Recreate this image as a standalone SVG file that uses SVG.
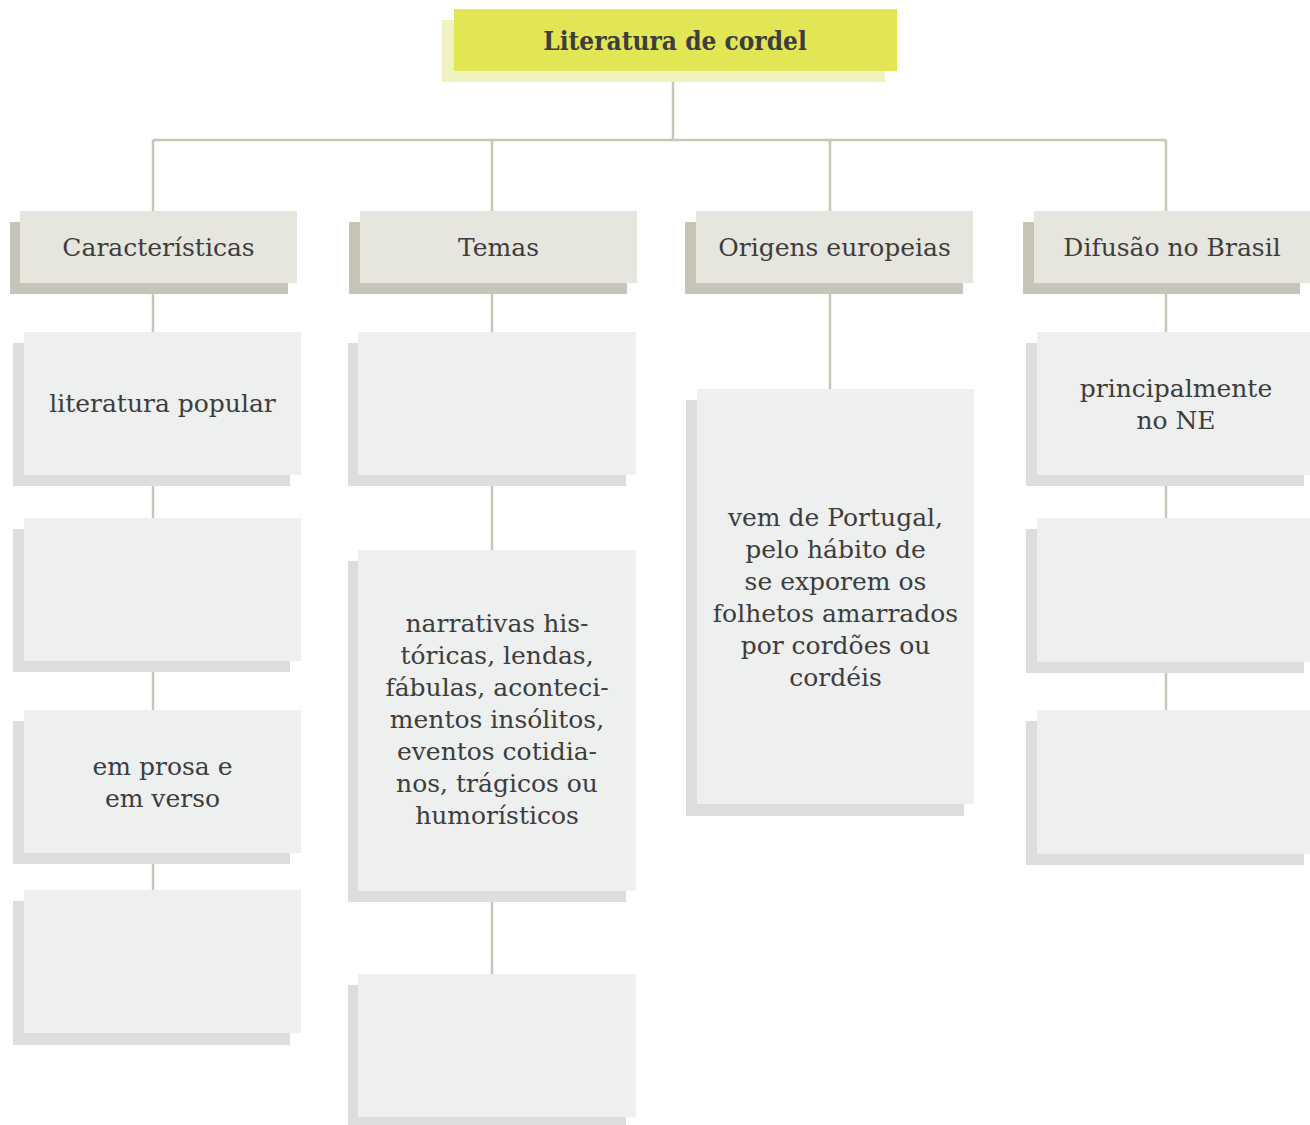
<svg xmlns="http://www.w3.org/2000/svg" width="1310" height="1125" viewBox="0 0 1310 1125">
<style>
.title{font-family:"DejaVu Serif Condensed","DejaVu Serif",serif;font-weight:bold;font-size:26px;fill:#3d3d3d;text-anchor:middle}
.hd{font-family:"DejaVu Serif",serif;font-size:25px;fill:#3d3d3d;text-anchor:middle}
.tx{font-family:"DejaVu Serif",serif;font-size:25px;fill:#3d3d3d;text-anchor:middle}
.hf{fill:#e6e5de}.hb{fill:#c7c5b7}
.cf{fill:#eef0ef}.cb{fill:#dcdddf}
.ln{stroke:#c8c6b8;stroke-width:2.5;fill:none}
</style>
<rect width="1310" height="1125" fill="#ffffff"/>
<g id="connectors">
<path class="ln" d="M673 82V140M153 140H1166M153 140V211M492 140V211M830 140V211M1166 140V211"/>
<path class="ln" d="M153 294V332M153 486V518M153 672V710M153 864V890"/>
<path class="ln" d="M492 294V332M492 486V550M492 901V974"/>
<path class="ln" d="M830 294V389"/>
<path class="ln" d="M1166 294V332M1166 486V518M1166 672V710"/>
</g>
<g id="title">
<rect x="442" y="20" width="443" height="62" fill="#f0f3c0"/>
<rect x="454" y="9" width="443" height="62" fill="#e2e655"/>
<text class="title" x="675" y="50">Literatura de cordel</text>
</g>
<g id="h1"><rect class="hb" x="10" y="222" width="278" height="72"/><rect class="hf" x="20" y="211" width="277" height="72"/><text class="hd" x="158.5" y="256">Características</text></g>
<g id="h2"><rect class="hb" x="349" y="222" width="278" height="72"/><rect class="hf" x="360" y="211" width="277" height="72"/><text class="hd" x="498.5" y="256">Temas</text></g>
<g id="h3"><rect class="hb" x="685" y="222" width="278" height="72"/><rect class="hf" x="696" y="211" width="277" height="72"/><text class="hd" x="834.5" y="256">Origens europeias</text></g>
<g id="h4"><rect class="hb" x="1023" y="222" width="277" height="72"/><rect class="hf" x="1034" y="211" width="276" height="72"/><text class="hd" x="1172" y="256">Difusão no Brasil</text></g>

<g id="c1a"><rect class="cb" x="13" y="343" width="277" height="143"/><rect class="cf" x="24" y="332" width="277" height="143"/><text class="tx" x="162.5" y="412">literatura popular</text></g>
<g id="c1b"><rect class="cb" x="13" y="529" width="277" height="143"/><rect class="cf" x="24" y="518" width="277" height="143"/></g>
<g id="c1c"><rect class="cb" x="13" y="721" width="277" height="143"/><rect class="cf" x="24" y="710" width="277" height="143"/><text class="tx" x="162.5" y="775">em prosa e<tspan x="162.5" dy="32">em verso</tspan></text></g>
<g id="c1d"><rect class="cb" x="13" y="901" width="277" height="144"/><rect class="cf" x="24" y="890" width="277" height="143"/></g>

<g id="c2a"><rect class="cb" x="348" y="343" width="278" height="143"/><rect class="cf" x="358" y="332" width="278" height="143"/></g>
<g id="c2b"><rect class="cb" x="348" y="561" width="278" height="341"/><rect class="cf" x="358" y="550" width="278" height="341"/><text class="tx" x="497" y="632">narrativas his-<tspan x="497" dy="32">tóricas, lendas,</tspan><tspan x="497" dy="32">fábulas, aconteci-</tspan><tspan x="497" dy="32">mentos insólitos,</tspan><tspan x="497" dy="32">eventos cotidia-</tspan><tspan x="497" dy="32">nos, trágicos ou</tspan><tspan x="497" dy="32">humorísticos</tspan></text></g>
<g id="c2c"><rect class="cb" x="348" y="985" width="278" height="140"/><rect class="cf" x="358" y="974" width="278" height="143"/></g>

<g id="c3a"><rect class="cb" x="686" y="400" width="278" height="416"/><rect class="cf" x="697" y="389" width="277" height="415"/><text class="tx" x="835.5" y="526">vem de Portugal,<tspan x="835.5" dy="32">pelo hábito de</tspan><tspan x="835.5" dy="32">se exporem os</tspan><tspan x="835.5" dy="32">folhetos amarrados</tspan><tspan x="835.5" dy="32">por cordões ou</tspan><tspan x="835.5" dy="32">cordéis</tspan></text></g>

<g id="c4a"><rect class="cb" x="1026" y="343" width="278" height="143"/><rect class="cf" x="1037" y="332" width="273" height="143"/><text class="tx" x="1176" y="397">principalmente<tspan x="1176" dy="32">no NE</tspan></text></g>
<g id="c4b"><rect class="cb" x="1026" y="529" width="278" height="144"/><rect class="cf" x="1037" y="518" width="273" height="144"/></g>
<g id="c4c"><rect class="cb" x="1026" y="721" width="278" height="144"/><rect class="cf" x="1037" y="710" width="273" height="144"/></g>
</svg>
